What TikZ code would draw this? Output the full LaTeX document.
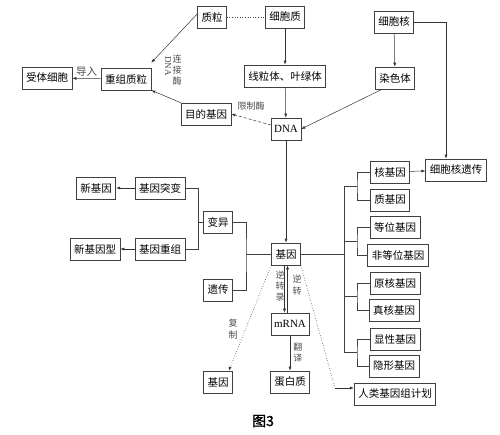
\documentclass[tikz,border=0pt]{standalone}
\usepackage{fontspec}
\setmainfont{Liberation Serif}
\newfontfamily\cjk{Noto Sans CJK SC}
\newfontfamily\capfont[FakeBold=1.5]{Noto Sans CJK SC}
\newcommand\zh{\cjk\fontsize{10.5}{12}\selectfont}
\newcommand\lb{\cjk\fontsize{9}{11.2}\selectfont}
\usetikzlibrary{arrows.meta}

\begin{document}
\begin{tikzpicture}[x=1pt,y=-1pt,
	box/.style={draw=black!75,line width=0.6pt,font=\zh,inner xsep=4pt,inner ysep=0pt,minimum height=22pt},
	latin/.style={font=\rmfamily\fontsize{11}{13}\selectfont,inner xsep=3pt},
	lab/.style={font=\lb,text=black!70,inner sep=1pt,align=center},
	arr/.style={-{Latex[length=4pt,width=3pt]},black!80,line width=0.5pt},
	link/.style={black!75,line width=0.6pt}]
	\useasboundingbox (0,0) rectangle (500,434);

	% cell parts
	\node [box] at (212,17) (zhili) {质粒};
	\node [box] at (285,17) (xibaozhi) {细胞质};
	\node [box] at (394,22) (xibaohe) {细胞核};
	\node [box] at (285,76) (xianliti) {线粒体、叶绿体};
	\node [box] at (395,78) (ranseti) {染色体};
	\node [box,latin] at (286,129) (dna) {DNA};

	% gene engineering
	\node [box] at (206,114) (mudi) {目的基因};
	\node [box] at (126,79) (chongzu) {重组质粒};
	\node [box] at (47,78) (shouti) {受体细胞};

	\draw [link,dotted,line width=1pt] (zhili) -- (xibaozhi);
	\draw [arr] (xibaozhi) -- (xianliti);
	\draw [arr] (xianliti) -- (dna);
	\draw [arr] (xibaohe) -- (ranseti);
	\draw [arr] ([xshift=7pt]ranseti.south west) -- (dna.east);
	\draw [arr,densely dashed] ([yshift=4pt]dna.west) -- (mudi.east);
	\node [lab] at (251,106) (xianzhi) {限制酶};
	\draw [arr] (mudi.north west) -- (chongzu.south east);
	\draw [arr] ([yshift=3pt]zhili.west) -- ([yshift=5pt]chongzu.north east);
	\draw [arr] (chongzu) -- node [lab,above,font=\zh,yshift=1pt] {导入} (shouti);
	\node [lab,rotate=-90,font=\rmfamily\fontsize{9}{10}\selectfont] at (168,66) (dnalab) {DNA};
	\node [lab] at (177,70) (lianjie) {连\\接\\酶};

	% gene
	\node [box] at (286,254) (jiyin) {基因};
	\draw [arr] (dna) -- (jiyin);

	% variation and heredity
	\node [box] at (218,222) (bianyi) {变异};
	\node [box] at (218,290) (yichuan) {遗传};
	\node [box] at (160,188) (tubian) {基因突变};
	\node [box] at (160,249) (chongzu2) {基因重组};
	\node [box] at (96,188) (xinjiyin) {新基因};
	\node [box] at (95,249) (xinxing) {新基因型};
	\coordinate (lb) at (246,254);
	\draw [link] (jiyin.west) -- (lb);
	\draw [link] (bianyi.east) -| (lb) |- (yichuan.east);
	\draw [link] (tubian.east) -| ([xshift=-5pt]bianyi.west) |- (chongzu2.east);
	\draw [link] ([xshift=-5pt]bianyi.west) -- (bianyi.west);
	\draw [arr] (tubian) -- (xinjiyin);
	\draw [arr] (chongzu2) -- (xinxing);

	% kinds of genes
	\node [box] at (390,172) (hejiyin) {核基因};
	\node [box] at (456,170) (hyichuan) {细胞核遗传};
	\node [box] at (390,200) (zhijiyin) {质基因};
	\node [box] at (395,227) (dengwei) {等位基因};
	\node [box] at (398,255) (feidengwei) {非等位基因};
	\node [box] at (395,283) (yuanhe) {原核基因};
	\node [box] at (394,310) (zhenhe) {真核基因};
	\node [box] at (395,339) (xianxing) {显性基因};
	\node [box] at (394,366) (yinxing) {隐形基因};
	\coordinate (rb) at (344,254);
	\draw [link] (jiyin.east) -- (rb);
	\draw [link] (344,186) -- (344,352.5);
	\foreach \a/\b/\m in {hejiyin/zhijiyin/186,dengwei/feidengwei/241,yuanhe/zhenhe/296.5,xianxing/yinxing/352.5}
	{
		\draw [link] (\a.west) -| (357,\m) |- (\b.west);
		\draw [link] (357,\m) -- (344,\m);
	}
	\draw [arr] (hejiyin) -- (hyichuan);
	\draw [arr] (xibaohe.east) -| ([xshift=-10pt]hyichuan.north);

	% expression
	\node [box,latin] at (290,324) (mrna) {mRNA};
	\node [box] at (290,382) (danbai) {蛋白质};
	\node [box] at (218,382) (jiyin2) {基因};
	\node [box] at (395,394) (renlei) {人类基因组计划};
	\draw [arr] ([xshift=-1.5pt]jiyin.south) -- ([xshift=-1.5pt]jiyin.south |- mrna.north);
	\draw [arr] ([xshift=1.5pt]jiyin.south |- mrna.north) -- ([xshift=1.5pt]jiyin.south);
	\node [lab] at (280,286) (zhuanlu) {逆\\转\\录};
	\node [lab] at (297,285) (nizhuan) {逆\\转};
	\draw [arr] (mrna) -- node [lab,right=2pt] {翻\\译} (danbai);
	\draw [arr,dotted,line width=0.7pt] (jiyin.south west) -- ([xshift=-4pt]jiyin2.north east);
	\node [lab] at (233,329) (fuzhi) {复\\制};
	\coordinate (rk) at (335,388);
	\draw [link,dotted,line width=0.7pt] (jiyin.south east) -- (rk);
	\draw [arr] (rk) -- ([yshift=6pt]renlei.west);

	\node [font=\capfont\fontsize{14}{16}\selectfont] at (263,421) (cap) {图3};
\end{tikzpicture}
\end{document}
